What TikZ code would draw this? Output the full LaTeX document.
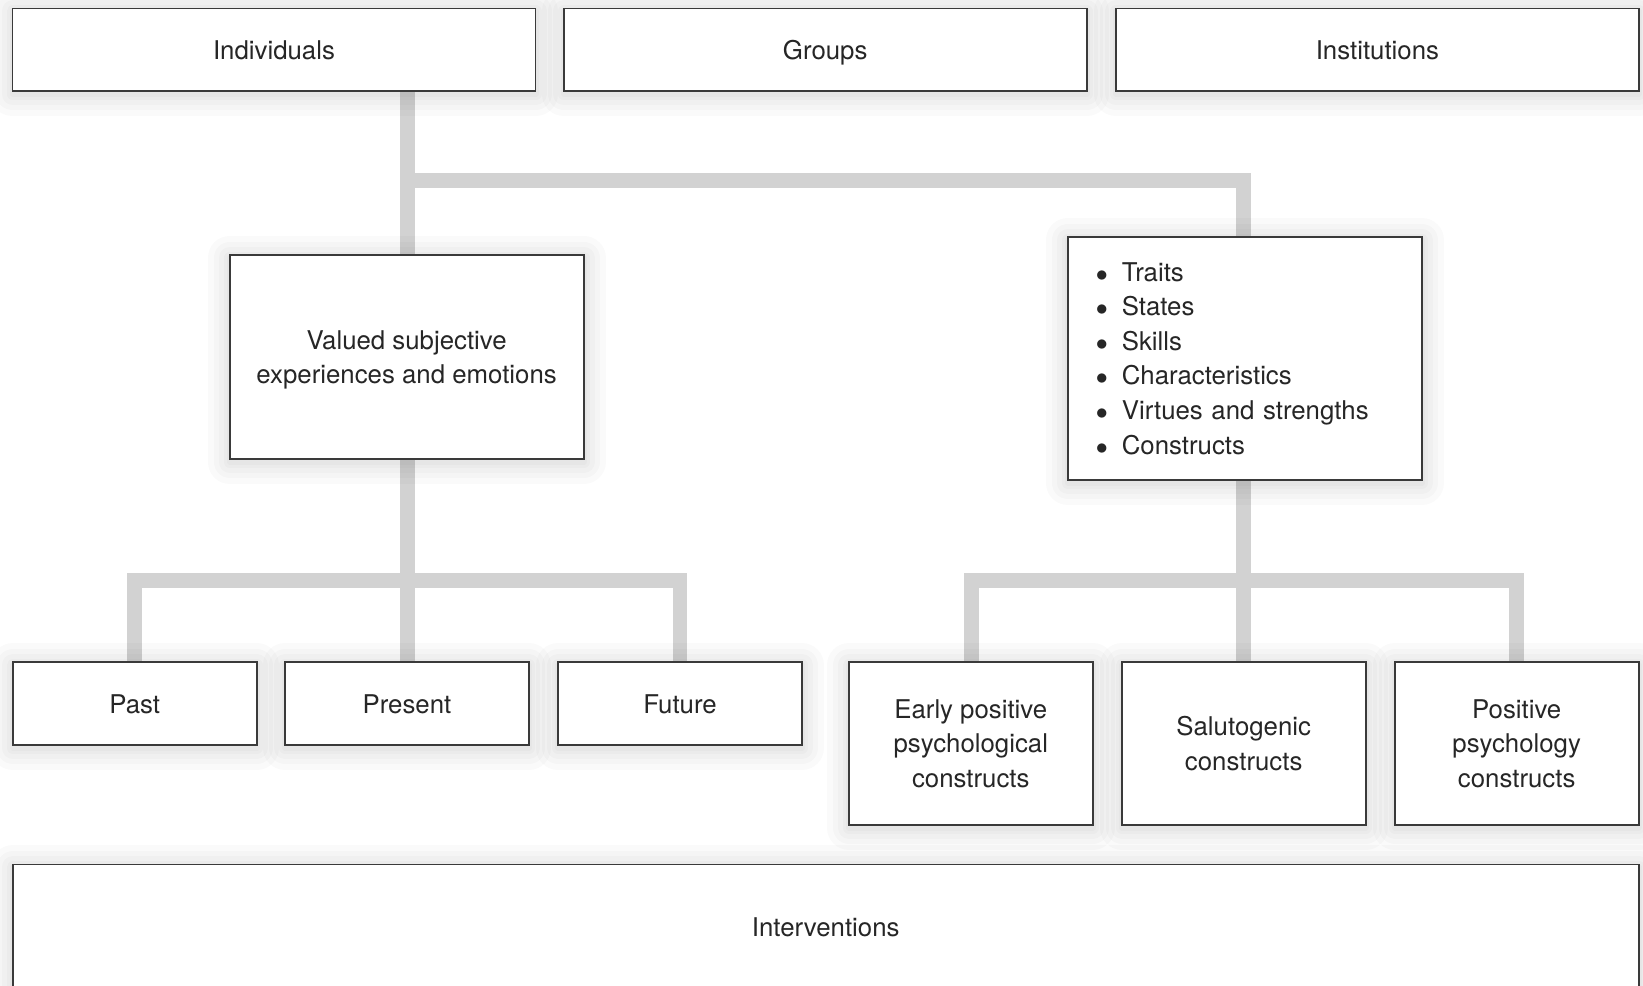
\documentclass[tikz,border=0pt]{standalone}
\usepackage{fontspec}
\setmainfont{TeX Gyre Heros}
\definecolor{linkgray}{HTML}{D2D2D2}
\definecolor{edgegray}{HTML}{3A3A3A}
\definecolor{inkgray}{HTML}{262626}
\newcommand{\listmark}{\makebox[13pt][l]{$\bullet$}}
% invisible rules that set the vertical placement of a label
\newcommand{\oneline}{\vrule width 0pt height 12.1pt depth 2.6pt}
\newcommand{\firstline}{\vrule width 0pt height 12.6pt depth 0pt}
\begin{document}
\begin{tikzpicture}[x=0.5pt,y=-0.5pt,
  % soft halo made of stacked translucent strokes
  halo/.style={draw=black, draw opacity=0.02, line width=#1, line join=round,
    transform canvas={yshift=-1.5pt}},
  box/.style={draw=edgegray, line width=0.9pt, fill=white, text=inkgray,
    align=center, inner sep=0pt,
    font=\fontsize{12.9}{17.3}\selectfont,
    preaction={halo=22pt}, preaction={halo=16pt}, preaction={halo=11pt},
    preaction={halo=6pt}, preaction={halo=3pt}},
  conn/.style={draw=linkgray, line width=7.4pt, line join=miter}]
\clip (0,0) rectangle (1643,985);
\fill[white] (0,0) rectangle (1643,985);

% junction points of the connector trees
\coordinate (jtop) at (407.6,180.2);
\coordinate (jleft) at (407.6,580.5);
\coordinate (jright) at (1243.7,580.5);

% connector ends (hidden under the boxes)
\coordinate (cind) at (407.6,91);
\coordinate (cpres) at (407.6,663);
\coordinate (ctr) at (1243.7,237);
\coordinate (ctrs) at (1243.7,479);
\coordinate (csal) at (1243.7,663);
\coordinate (cpast) at (134.1,663);
\coordinate (cfut) at (680,663);
\coordinate (cearly) at (971.3,663);
\coordinate (cpos) at (1516.2,663);

% connectors first, boxes on top
\draw[conn] (cind) -- (cpres);
\draw[conn] (jtop) -| (ctr);
\draw[conn] (ctrs) -- (csal);
\draw[conn] (cpast) |- (jleft) -| (cfut);
\draw[conn] (cearly) |- (jright) -| (cpos);

% top row
\node[box, minimum width=261.5pt, minimum height=41.4pt] (ind) at (274,49.8) {\oneline Individuals};
\node[box, minimum width=261.5pt, minimum height=41.4pt] (grp) at (825.2,49.8) {\oneline Groups};
\node[box, minimum width=261.5pt, minimum height=41.4pt] (inst) at (1377.4,49.8) {\oneline Institutions};

% middle row
\node[box, minimum width=177pt, minimum height=102.2pt] (val) at (406.6,356.8)
  {\firstline Valued subjective\\experiences and emotions};
\node[box, minimum height=121.6pt, text width=149pt, inner xsep=14pt, align=left] (tr) at (1244.8,358.4)
  {\listmark Traits\\
   \listmark States\\
   \listmark Skills\\
   \listmark Characteristics\\
   \listmark Virtues and strengths\\
   \listmark Constructs};

% bottom row, left branch
\node[box, minimum width=122pt, minimum height=41.4pt] (past) at (134.7,703.6) {\oneline Past};
\node[box, minimum width=122pt, minimum height=41.4pt] (pres) at (407,703.6) {\oneline Present};
\node[box, minimum width=122pt, minimum height=41.4pt] (fut) at (680,703.6) {\oneline Future};

% bottom row, right branch
\node[box, minimum width=122pt, minimum height=81.2pt] (early) at (970.8,743.4)
  {Early positive\\psychological\\constructs};
\node[box, minimum width=122pt, minimum height=81.2pt] (sal) at (1243.7,743.4)
  {Salutogenic\\constructs};
\node[box, minimum width=122pt, minimum height=81.2pt] (pos) at (1516.7,743.4)
  {Positive\\psychology\\constructs};

% base
\node[box, minimum width=813.1pt, minimum height=62.8pt] (intv) at (825.7,927.2) {\oneline Interventions};
\end{tikzpicture}
\end{document}
